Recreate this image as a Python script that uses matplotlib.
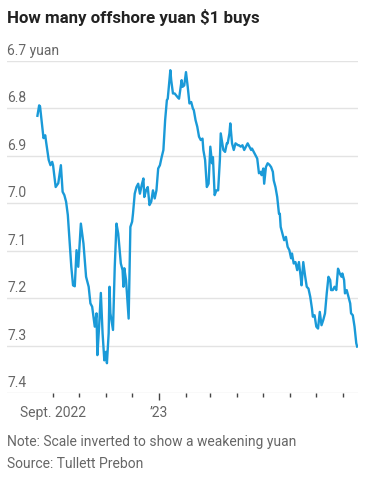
import matplotlib
matplotlib.use("Agg")
import matplotlib.pyplot as plt
import matplotlib.dates as mdates
import matplotlib.transforms as mtransforms
import pandas as pd

# --- Données : yuan offshore pour 1 dollar ---
dates = [
    "2022-08-14", "2022-08-16", "2022-08-17", "2022-08-19", "2022-08-21", "2022-08-23",
    "2022-08-24", "2022-08-27", "2022-08-29", "2022-08-31", "2022-09-01", "2022-09-04",
    "2022-09-07", "2022-09-10", "2022-09-12", "2022-09-14", "2022-09-16", "2022-09-18",
    "2022-09-20", "2022-09-22", "2022-09-24", "2022-09-26", "2022-09-28", "2022-09-30",
    "2022-10-03", "2022-10-06", "2022-10-09", "2022-10-12", "2022-10-14", "2022-10-16",
    "2022-10-19", "2022-10-21", "2022-10-22", "2022-10-24", "2022-10-26", "2022-10-28",
    "2022-10-30", "2022-11-01", "2022-11-02", "2022-11-04", "2022-11-05", "2022-11-06",
    "2022-11-09", "2022-11-11", "2022-11-13", "2022-11-15", "2022-11-18", "2022-11-20",
    "2022-11-21", "2022-11-22", "2022-11-24", "2022-11-27", "2022-11-29", "2022-12-01",
    "2022-12-02", "2022-12-04", "2022-12-06", "2022-12-08", "2022-12-10", "2022-12-12",
    "2022-12-14", "2022-12-15", "2022-12-17", "2022-12-19", "2022-12-21", "2022-12-23",
    "2022-12-25", "2022-12-27", "2022-12-29", "2022-12-31", "2023-01-02", "2023-01-04",
    "2023-01-06", "2023-01-08", "2023-01-10", "2023-01-11", "2023-01-14", "2023-01-15",
    "2023-01-17", "2023-01-19", "2023-01-22", "2023-01-24", "2023-01-27", "2023-01-28",
    "2023-01-30", "2023-02-01", "2023-02-03", "2023-02-05", "2023-02-07", "2023-02-09",
    "2023-02-10", "2023-02-12", "2023-02-14", "2023-02-16", "2023-02-18", "2023-02-20",
    "2023-02-21", "2023-02-23", "2023-02-25", "2023-02-27", "2023-03-01", "2023-03-03",
    "2023-03-04", "2023-03-06", "2023-03-08", "2023-03-10", "2023-03-12", "2023-03-13",
    "2023-03-16", "2023-03-18", "2023-03-20", "2023-03-21", "2023-03-23", "2023-03-24",
    "2023-03-26", "2023-03-28", "2023-03-30", "2023-04-02", "2023-04-03", "2023-04-05",
    "2023-04-07", "2023-04-09", "2023-04-11", "2023-04-13", "2023-04-15", "2023-04-17",
    "2023-04-18", "2023-04-20", "2023-04-22", "2023-04-24", "2023-04-26", "2023-04-28",
    "2023-04-29", "2023-05-01", "2023-05-02", "2023-05-04", "2023-05-06", "2023-05-08",
    "2023-05-10", "2023-05-12", "2023-05-13", "2023-05-15", "2023-05-17", "2023-05-19",
    "2023-05-20", "2023-05-21", "2023-05-23", "2023-05-25", "2023-05-27", "2023-05-29",
    "2023-05-31", "2023-06-02", "2023-06-03", "2023-06-05", "2023-06-07", "2023-06-09",
    "2023-06-11", "2023-06-13", "2023-06-14", "2023-06-16", "2023-06-18", "2023-06-20",
    "2023-06-22", "2023-06-24", "2023-06-26", "2023-06-27", "2023-06-29", "2023-07-01",
    "2023-07-03", "2023-07-05", "2023-07-07", "2023-07-09", "2023-07-11", "2023-07-13",
    "2023-07-15", "2023-07-17", "2023-07-18", "2023-07-20", "2023-07-22", "2023-07-24",
    "2023-07-26", "2023-07-28", "2023-07-30", "2023-07-31", "2023-08-02", "2023-08-03",
    "2023-08-05", "2023-08-07", "2023-08-09", "2023-08-10", "2023-08-12", "2023-08-14",
    "2023-08-16", "2023-08-17",
]
yuan = [
    6.816, 6.794, 6.796, 6.829, 6.863, 6.857,
    6.871, 6.909, 6.920, 6.913, 6.920, 6.966,
    6.958, 6.920, 6.976, 6.983, 6.997, 7.025,
    7.078, 7.134, 7.173, 7.175, 7.099, 7.134,
    7.043, 7.085, 7.155, 7.176, 7.211, 7.218,
    7.260, 7.232, 7.320, 7.260, 7.189, 7.274,
    7.331, 7.313, 7.337, 7.274, 7.176, 7.232,
    7.267, 7.134, 7.043, 7.064, 7.127, 7.141,
    7.176, 7.137, 7.162, 7.243, 7.050, 7.039,
    7.022, 6.980, 6.966, 6.959, 6.980, 6.962,
    6.948, 6.987, 6.973, 6.966, 7.004, 6.997,
    6.973, 6.990, 6.973, 6.927, 6.920, 6.903,
    6.888, 6.825, 6.783, 6.780, 6.720, 6.741,
    6.769, 6.769, 6.776, 6.780, 6.741, 6.755,
    6.752, 6.724, 6.755, 6.790, 6.787, 6.801,
    6.804, 6.825, 6.839, 6.860, 6.867, 6.864,
    6.888, 6.909, 6.966, 6.959, 6.881, 6.916,
    6.903, 6.983, 6.973, 6.973, 6.909, 6.853,
    6.888, 6.892, 6.874, 6.874, 6.853, 6.832,
    6.874, 6.888, 6.874, 6.878, 6.878, 6.881,
    6.878, 6.888, 6.881, 6.874, 6.881, 6.888,
    6.885, 6.892, 6.899, 6.906, 6.937, 6.934,
    6.941, 6.927, 6.959, 6.924, 6.916, 6.919,
    6.924, 6.934, 6.952, 6.966, 6.987, 7.022,
    7.022, 7.050, 7.064, 7.078, 7.071, 7.092,
    7.099, 7.116, 7.106, 7.127, 7.124, 7.141,
    7.124, 7.155, 7.173, 7.124, 7.152, 7.176,
    7.180, 7.197, 7.222, 7.239, 7.236, 7.260,
    7.264, 7.229, 7.257, 7.246, 7.232, 7.190,
    7.155, 7.162, 7.183, 7.183, 7.176, 7.183,
    7.138, 7.148, 7.155, 7.148, 7.162, 7.190,
    7.183, 7.197, 7.211, 7.232, 7.236, 7.260,
    7.295, 7.302,
]

y_ticks = [6.7, 6.8, 6.9, 7.0, 7.1, 7.2, 7.3, 7.4]
y_labels = ["6.7 yuan", "6.8", "6.9", "7.0", "7.1", "7.2", "7.3", "7.4"]
month_ticks = pd.date_range("2022-09-01", "2023-08-01", freq="MS")
x_labels = {"2022-09-01": "Sept. 2022", "2023-01-01": "\u201923"}

title = "How many offshore yuan $1 buys"
note = "Note: Scale inverted to show a weakening yuan"
source = "Source: Tullett Prebon"

plt.rcParams["font.family"] = ["Roboto", "DejaVu Sans"]
BLUE = "#1a9ad8"
GRID = "#e3e3e3"
GREY = "#666666"

fig = plt.figure(figsize=(3.73, 4.8), dpi=100)
ax = fig.add_axes([0.0188, 0.181, 0.941, 0.6925])

x = pd.to_datetime(dates)
ax.plot(x, yuan, color=BLUE, lw=1.7, solid_joinstyle="round")

ax.set_xlim(pd.Timestamp("2022-07-10"), pd.Timestamp("2023-08-18"))
ax.set_ylim(7.4, 6.7)  # échelle inversée

# grille horizontale + étiquettes au-dessus des lignes
for v in y_ticks:
    ax.axhline(v, color=GRID, lw=1, zorder=0)
trans = mtransforms.blended_transform_factory(ax.transAxes, ax.transData)
for v, lab in zip(y_ticks, y_labels):
    ax.annotate(lab, (0, v), xycoords=trans, xytext=(0, 2), textcoords="offset points",
                ha="left", va="bottom", fontsize=10, color=GREY)

ax.set_yticks([])
for s in ax.spines.values():
    s.set_visible(False)

ax.set_xticks(month_ticks)
ax.set_xticklabels([x_labels.get(d.strftime("%Y-%m-%d"), "") for d in month_ticks])
ax.tick_params(axis="x", length=3, width=1, color="#444444", pad=6,
               labelsize=10, labelcolor=GREY)
ax.xaxis.get_major_ticks()[4].tick1line.set_markersize(5)

fig.text(0.019, 0.964, title, fontsize=12.2, fontweight="bold", color="#222222",
         ha="left", va="center")
fig.text(0.019, 0.080, note, fontsize=10, color=GREY, ha="left", va="center")
fig.text(0.019, 0.034, source, fontsize=10, color=GREY, ha="left", va="center")

fig.savefig("out.png", dpi=100)
